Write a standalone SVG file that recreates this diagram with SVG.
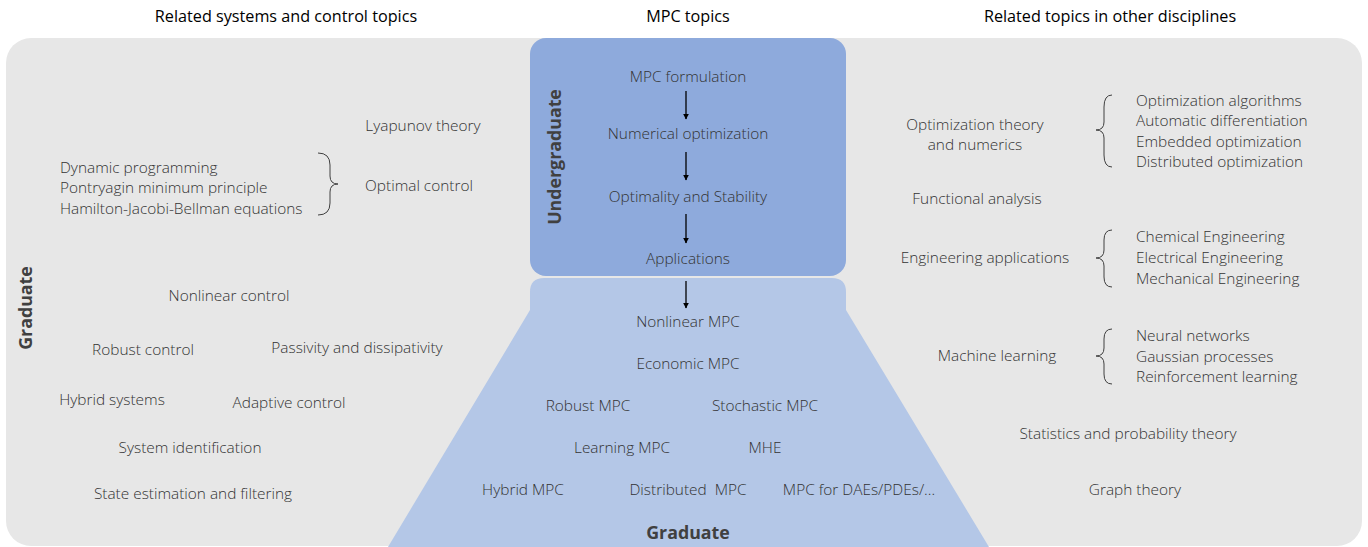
<svg xmlns="http://www.w3.org/2000/svg" width="1368" height="547" viewBox="0 0 1368 547">
<style>
.t{font-family:"Open Sans","Noto Sans",sans-serif;font-weight:300;font-size:15.4px;fill:#333}
.m{text-anchor:middle}
.h{font-family:"Open Sans","Noto Sans",sans-serif;font-size:16.2px;fill:#000;text-anchor:middle}
.b{font-family:"Open Sans","Noto Sans",sans-serif;font-weight:700;font-size:17.8px;fill:#404040;text-anchor:middle}
.br{fill:none;stroke:#404040;stroke-width:1}
.ar{stroke:#000;stroke-width:1.3;marker-end:url(#ah)}
</style>
<defs>
<marker id="ah" viewBox="0 0 10 10" refX="9" refY="5" markerWidth="6" markerHeight="6" orient="auto" markerUnits="userSpaceOnUse"><path d="M0 0 L10 5 L0 10 z" fill="#000"/></marker>
</defs>
<rect width="1368" height="547" fill="#fff"/>
<rect id="background" x="6" y="38" width="1356" height="508" rx="25" fill="#e7e7e7"/>
<g id="headers">
<text class="h" x="286" y="22">Related systems and control topics</text>
<text class="h" x="688" y="22">MPC topics</text>
<text class="h" x="1110" y="22">Related topics in other disciplines</text>
</g>
<g id="graduate-area">
<path d="M530 310 L530 292 Q530 278 544 278 L832 278 Q846 278 846 292 L846 310 L989 547 L388 547 Z" fill="#b4c7e7"/>
</g>
<g id="undergraduate-area">
<rect x="530" y="38" width="316" height="238" rx="16" fill="#8eaadc"/>
<text class="b" transform="translate(561,157) rotate(-90)">Undergraduate</text>
</g>
<g id="connectors">
<line class="ar" x1="686" y1="91" x2="686" y2="119"/>
<line class="ar" x1="686" y1="152" x2="686" y2="180"/>
<line class="ar" x1="686" y1="214" x2="686" y2="243"/>
<line class="ar" x1="686" y1="281" x2="686" y2="308"/>
</g>
<g id="undergrad-topics">
<text class="t m" x="688" y="82">MPC formulation</text>
<text class="t m" x="688" y="139">Numerical optimization</text>
<text class="t m" x="688" y="202">Optimality and Stability</text>
<text class="t m" x="688" y="264">Applications</text>
</g>
<g id="grad-topics">
<text class="t m" x="688" y="327">Nonlinear MPC</text>
<text class="t m" x="688" y="369">Economic MPC</text>
<text class="t m" x="588" y="411">Robust MPC</text>
<text class="t m" x="765" y="411">Stochastic MPC</text>
<text class="t m" x="622" y="453">Learning MPC</text>
<text class="t m" x="765" y="453">MHE</text>
<text class="t m" x="523" y="495">Hybrid MPC</text>
<text class="t m" x="688" y="495" xml:space="preserve">Distributed  MPC</text>
<text class="t m" x="859" y="495">MPC for DAEs/PDEs/...</text>
<text class="b" x="688" y="539">Graduate</text>
</g>
<g id="left-topics">
<text class="b" transform="translate(32,308) rotate(-90)">Graduate</text>
<text class="t m" x="423" y="131">Lyapunov theory</text>
<text class="t" x="60" y="173">Dynamic programming</text>
<text class="t" x="60" y="193">Pontryagin minimum principle</text>
<text class="t" x="60" y="214">Hamilton-Jacobi-Bellman equations</text>
<path class="br" d="M318 153 Q330 153 330 165 L330 176 Q330 184 338 184 Q330 184 330 192 L330 203 Q330 215 318 215"/>
<text class="t m" x="419" y="191">Optimal control</text>
<text class="t m" x="229" y="301">Nonlinear control</text>
<text class="t m" x="143" y="355">Robust control</text>
<text class="t m" x="357" y="353">Passivity and dissipativity</text>
<text class="t m" x="112" y="405">Hybrid systems</text>
<text class="t m" x="289" y="408">Adaptive control</text>
<text class="t m" x="190" y="453">System identification</text>
<text class="t m" x="193" y="499">State estimation and filtering</text>
</g>
<g id="right-topics">
<text class="t m" x="975" y="130">Optimization theory</text>
<text class="t m" x="975" y="150">and numerics</text>
<path class="br" d="M1112 95 Q1104 95 1104 107 L1104 122 Q1104 130 1096 130 Q1104 130 1104 138 L1104 155 Q1104 167 1112 167"/>
<text class="t" x="1136" y="106">Optimization algorithms</text>
<text class="t" x="1136" y="126">Automatic differentiation</text>
<text class="t" x="1136" y="147">Embedded optimization</text>
<text class="t" x="1136" y="167">Distributed optimization</text>
<text class="t m" x="977" y="204">Functional analysis</text>
<text class="t m" x="985" y="263">Engineering applications</text>
<path class="br" d="M1112 230 Q1104 230 1104 240 L1104 250 Q1104 258 1096 258 Q1104 258 1104 266 L1104 277 Q1104 287 1112 287"/>
<text class="t" x="1136" y="242">Chemical Engineering</text>
<text class="t" x="1136" y="263">Electrical Engineering</text>
<text class="t" x="1136" y="284">Mechanical Engineering</text>
<text class="t m" x="997" y="361">Machine learning</text>
<path class="br" d="M1112 329 Q1104 329 1104 339 L1104 348 Q1104 356 1096 356 Q1104 356 1104 364 L1104 374 Q1104 384 1112 384"/>
<text class="t" x="1136" y="341">Neural networks</text>
<text class="t" x="1136" y="362">Gaussian processes</text>
<text class="t" x="1136" y="382">Reinforcement learning</text>
<text class="t m" x="1128" y="439">Statistics and probability theory</text>
<text class="t m" x="1135" y="495">Graph theory</text>
</g>
</svg>
